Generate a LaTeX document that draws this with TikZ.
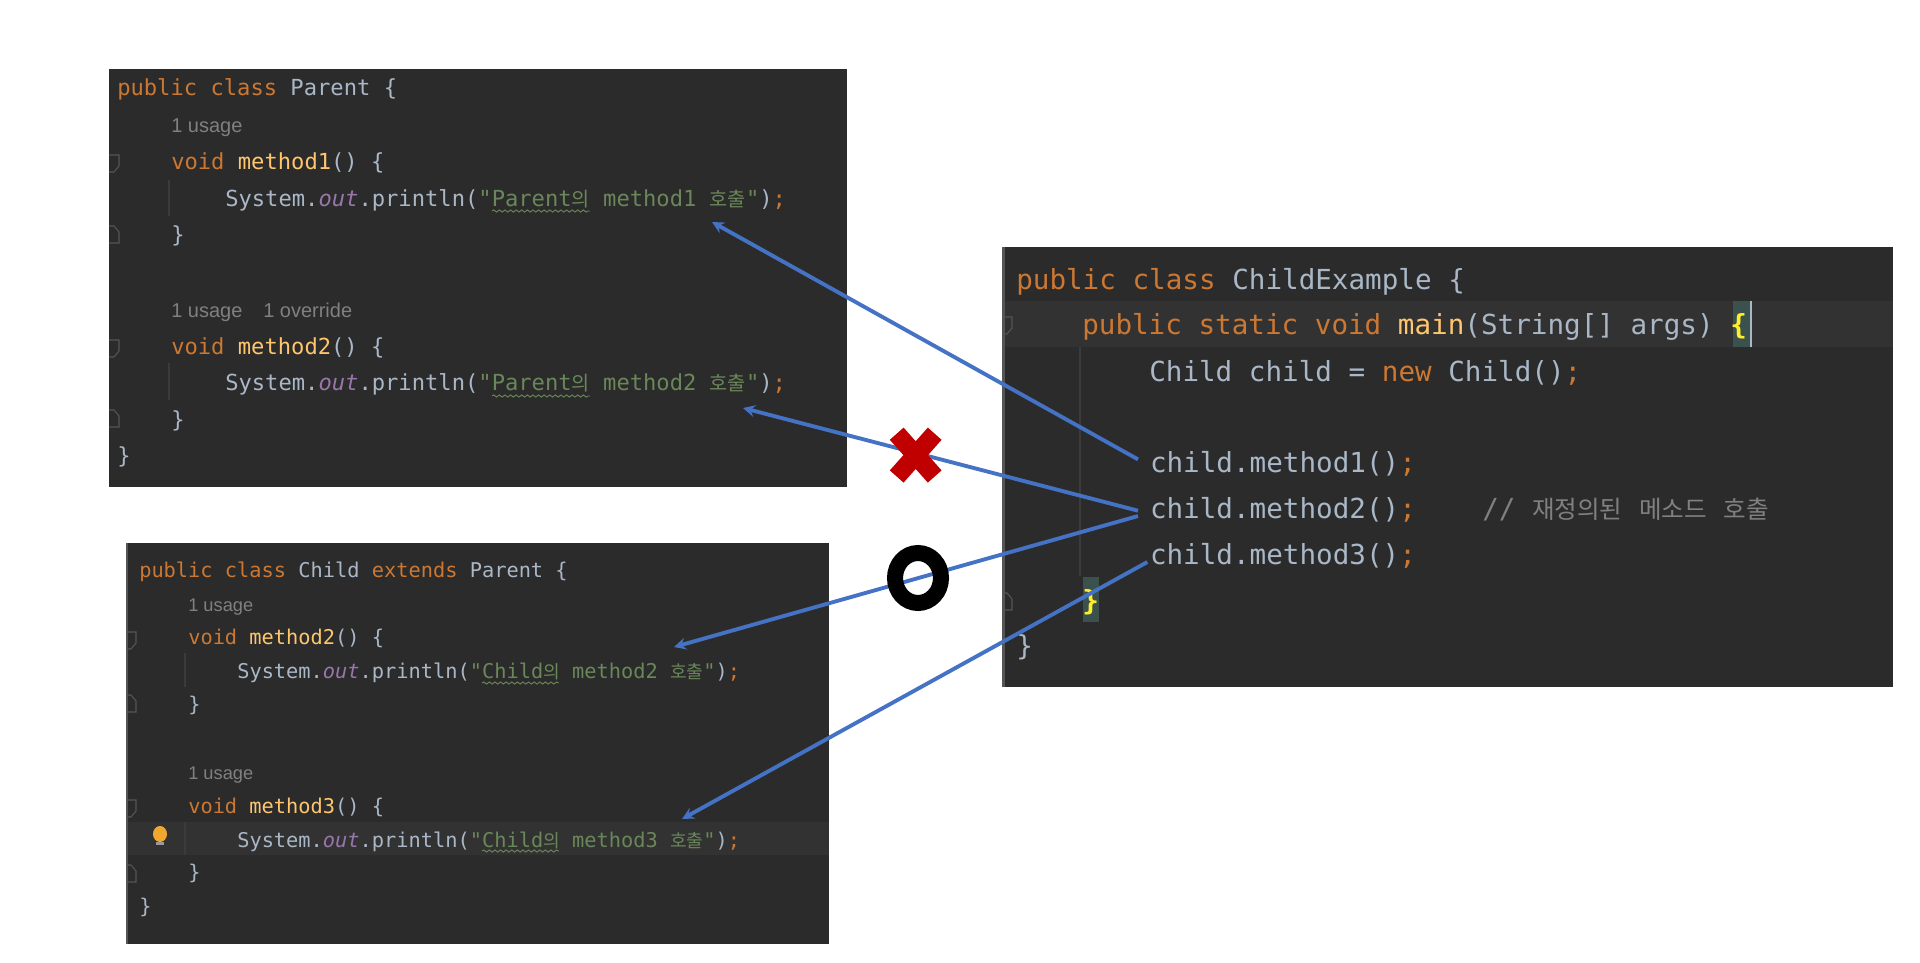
\documentclass[tikz,border=0pt]{standalone}
\usepackage{fontspec}
\setmainfont{Liberation Sans}
\setmonofont{DejaVu Sans Mono}
\newfontfamily\krfont[Scale=0.89]{Noto Sans CJK KR}
\usetikzlibrary{decorations.pathmorphing}
\definecolor{panelbg}{HTML}{2B2B2B}
\definecolor{caretbg}{HTML}{323232}
\definecolor{gutterln}{HTML}{555555}
\definecolor{guideln}{HTML}{3B3B3B}
\definecolor{plaintx}{HTML}{A9B7C6}
\definecolor{kwtx}{HTML}{CC7832}
\definecolor{methtx}{HTML}{FFC66D}
\definecolor{strtx}{HTML}{6A8759}
\definecolor{fieldtx}{HTML}{9876AA}
\definecolor{graytx}{HTML}{808080}
\definecolor{bracebg}{HTML}{3B514D}
\definecolor{bracetx}{HTML}{FFEF28}
\definecolor{arrowbl}{HTML}{4472C4}
\definecolor{crossrd}{HTML}{C00000}
\definecolor{bulbor}{HTML}{F0A732}
\newcommand{\kw}[1]{\textcolor{kwtx}{#1}}
\newcommand{\meth}[1]{\textcolor{methtx}{#1}}
\newcommand{\str}[1]{\textcolor{strtx}{#1}}
\newcommand{\outfield}{\textcolor{fieldtx}{\itshape out}}
\newcommand{\kr}[1]{{\krfont #1}}
\newcommand{\printcall}[2]{System.\outfield.println(\str{"#1\kr{의} #2 \kr{호출}"})\kw{;}}
\tikzset{
  codeline/.style={anchor=base west,inner sep=0pt,text=plaintx},
  parentline/.style={codeline,font=\ttfamily\fontsize{16.6}{20}\selectfont},
  childline/.style={codeline,font=\ttfamily\fontsize{15.25}{18}\selectfont},
  mainline/.style={codeline,font=\ttfamily\fontsize{20.7}{25}\selectfont},
  parentusage/.style={codeline,text=graytx,font=\fontsize{15}{18}\selectfont},
  childusage/.style={codeline,text=graytx,font=\fontsize{13.7}{16}\selectfont},
  callline/.style={mainline,outer xsep=9pt},
  squiggle/.style={strtx,line width=.7pt,decorate,decoration={snake,segment length=4.2pt,amplitude=.8pt}},
  callarrow/.style={->,arrowbl,line width=2.9pt}
}
\begin{document}
\begin{tikzpicture}[x=.75pt,y=-.75pt,>=stealth]
	\useasboundingbox (0,0) rectangle (1920,963);
	\fill[white] (0,0) rectangle (1920,963);
	\fill[panelbg] (109,69) rectangle (847,487);
	\fill[panelbg] (126,543) rectangle (829,944);
	\fill[panelbg] (1002,247) rectangle (1893,687);
	\fill[caretbg] (126,822) rectangle (829,855);
	\fill[caretbg] (1002,301) rectangle (1893,347);
	\fill[gutterln] (1002,247) rectangle (1005,687);
	\fill[gutterln] (126,543) rectangle (128,944);
	\fill[bracebg] (1733,301) rectangle (1750,347);
	\fill[bracebg] (1083,577) rectangle (1099,622);
	\fill[plaintx] (1750,301) rectangle (1752,347);
	\foreach \gx/\ga/\gb in {169/180/216,169/363/400,185/653/687,185/822/855,1080/347/576}
	\draw[guideln,line width=.8pt] (\gx,\ga) -- (\gx,\gb);
	\foreach \fx/\fy in {109/155,109/340,126/632,126/800,1002/317}
	\draw[gutterln,line width=.8pt] (\fx,\fy) -- ++(10,0) -- ++(0,11) -- ++(-5,6) -- ++(-5,0);
	\foreach \fx/\fy in {109/243,109/427,126/712,126/882,1002/610}
	\draw[gutterln,line width=.8pt] (\fx,\fy) -- ++(10,0) -- ++(0,-11) -- ++(-5,-6) -- ++(-5,0);
	\foreach \ux/\uy/\uw in {492/211/98,492/396/98,482/683/77,482/851/77}
	\draw[squiggle] (\ux,\uy) -- ++(\uw,0);

	\node[parentline] (parentHead) at (117,96) {\kw{public class} Parent \{};
	\node[parentusage] (parentUseOne) at (171,133) {1 usage};
	\node[parentline] (parentDeclOne) at (171,170) {\kw{void} \meth{method1}() \{};
	\node[parentline] (parentBodyOne) at (225,206) {\printcall{Parent}{method1}};
	\node[parentline] (parentEndOne) at (171,243) {\}};
	\node[parentusage] (parentUseTwo) at (171,317) {1 usage};
	\node[parentusage] (parentOverride) at (263,317) {1 override};
	\node[parentline] (parentDeclTwo) at (171,354) {\kw{void} \meth{method2}() \{};
	\node[parentline] (parentBodyTwo) at (225,390) {\printcall{Parent}{method2}};
	\node[parentline] (parentEndTwo) at (171,427) {\}};
	\node[parentline] (parentEnd) at (117,463) {\}};

	\node[childline] (childHead) at (139,577) {\kw{public class} Child \kw{extends} Parent \{};
	\node[childusage] (childUseOne) at (188,611) {1 usage};
	\node[childline] (childDeclOne) at (188,644) {\kw{void} \meth{method2}() \{};
	\node[childline] (childBodyOne) at (237,678) {\printcall{Child}{method2}};
	\node[childline] (childEndOne) at (188,711) {\}};
	\node[childusage] (childUseTwo) at (188,779) {1 usage};
	\node[childline] (childDeclTwo) at (188,813) {\kw{void} \meth{method3}() \{};
	\node[childline] (childBodyTwo) at (237,847) {\printcall{Child}{method3}};
	\node[childline] (childEndTwo) at (188,879) {\}};
	\node[childline] (childEnd) at (139,913) {\}};
	\fill[bulbor] (160,834) ellipse [x radius=7,y radius=8];
	\fill[gutterln!60!white] (156,842) rectangle (164,845);

	\node[mainline] (mainHead) at (1016,289) {\kw{public class} ChildExample \{};
	\node[mainline] (mainDecl) at (1082,334) {\kw{public static void} \meth{main}(String[] args) \textcolor{bracetx}{\bfseries\{}};
	\node[mainline] (mainNew) at (1149,381) {Child child = \kw{new} Child()\kw{;}};
	\node[callline] (callOne) at (1138,472) {child.method1()\kw{;}};
	\node[callline] (callTwo) at (1138,518) {child.method2()\kw{;}\ \ \ \ \textcolor{graytx}{// \kr{재정의된} \kr{메소드} \kr{호출}}};
	\node[callline] (callThree) at (1138,564) {child.method3()\kw{;}};
	\node[mainline] (mainEndDecl) at (1082,610) {\textcolor{bracetx}{\bfseries\}}};
	\node[mainline] (mainEnd) at (1016,655) {\}};

	\coordinate (tipParentOne) at (712,222);
	\coordinate (tipParentTwo) at (743,408);
	\coordinate (tipChildTwo) at (674,647);
	\coordinate (tipChildThree) at (682,819);
	\draw[callarrow] ([yshift=3pt]callOne.west) -- (tipParentOne);
	\draw[callarrow] ([yshift=-1pt]callTwo.west) -- (tipParentTwo);
	\draw[callarrow] ([yshift=-5pt]callTwo.west) -- (tipChildTwo);
	\draw[callarrow] ([xshift=7pt,yshift=-5pt]callThree.west) -- (tipChildThree);

	\draw[crossrd,line width=13.8pt] (896.7,433.7) -- (934.7,476.5) (934.7,433.7) -- (896.7,476.5);
	\draw[black,line width=12pt] (918,578) ellipse [x radius=23,y radius=25];
\end{tikzpicture}
\end{document}
